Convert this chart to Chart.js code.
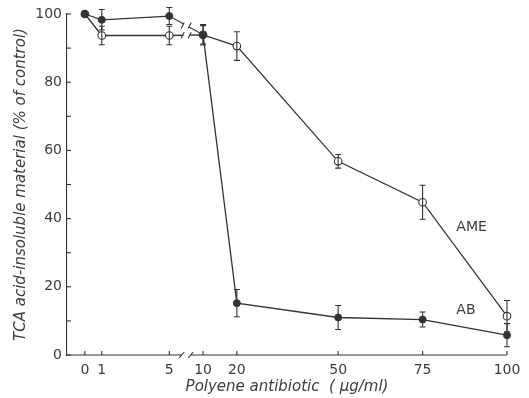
<!DOCTYPE html>
<html lang="en">
<head>
    <meta charset="UTF-8">
    <title>TCA acid-insoluble material vs polyene antibiotic</title>
    <script src="https://cdn.jsdelivr.net/npm/chart.js"></script>
    <style>
        html, body { margin: 0; padding: 0; background: #fff; overflow: hidden; }
    </style>
</head>
<body>
    <canvas id="chart" width="529" height="398"></canvas>

    <script>
        // Data
        const doses = [0, 1, 5, 10, 20, 50, 75, 100];
        const abValues = [100, 98.3, 99.4, 93.9, 15.2, 11.0, 10.4, 5.8];
        const abErrors = [0, 3, 2.5, 3, 4, 3.5, 2.2, 3.4];
        const ameValues = [100, 93.7, 93.7, 93.9, 90.6, 56.8, 44.8, 11.4];
        const ameErrors = [0, 2.7, 2.7, 2.7, 4.2, 2, 5, 4.6];
        const yTicks = [0, 20, 40, 60, 80, 100];

        const ink = '#333';
        const textInk = '#3c3c3c';

        // broken x axis: 0..5 stretched, then 10..100 linear
        function pos(d) {
            return d <= 5 ? d * 5 : 25 + d;
        }
        const tickPositions = doses.map(pos);

        function toPoints(vals) {
            return doses.map((d, i) => ({ x: pos(d), y: vals[i] }));
        }

        const figurePlugin = {
            id: 'figureDecor',
            afterDatasetsDraw(chart) {
                const ctx = chart.ctx;
                const xs = chart.scales.x, ys = chart.scales.y;
                const area = chart.chartArea;
                ctx.save();
                ctx.strokeStyle = ink;
                ctx.lineWidth = 1.1;

                // error bars
                [[abValues, abErrors], [ameValues, ameErrors]].forEach(([vals, errs]) => {
                    doses.forEach((d, i) => {
                        if (!errs[i]) return;
                        const px = xs.getPixelForValue(pos(d));
                        const top = ys.getPixelForValue(vals[i] + errs[i]);
                        const bot = ys.getPixelForValue(vals[i] - errs[i]);
                        ctx.beginPath();
                        ctx.moveTo(px, top); ctx.lineTo(px, bot);
                        ctx.moveTo(px - 3, top); ctx.lineTo(px + 3, top);
                        ctx.moveTo(px - 3, bot); ctx.lineTo(px + 3, bot);
                        ctx.stroke();
                    });
                });

                // breaks on the lines between 5 and 10
                [abValues, ameValues].forEach(vals => {
                    const x1 = xs.getPixelForValue(pos(5)), x2 = xs.getPixelForValue(pos(10));
                    const y1 = ys.getPixelForValue(vals[2]), y2 = ys.getPixelForValue(vals[3]);
                    const mx = (x1 + x2) / 2, my = (y1 + y2) / 2;
                    ctx.fillStyle = '#fff';
                    ctx.fillRect(mx - 3, my - 4, 6, 8);
                    ctx.beginPath();
                    ctx.moveTo(mx - 5, my + 3); ctx.lineTo(mx - 2, my - 3);
                    ctx.moveTo(mx + 2, my + 3); ctx.lineTo(mx + 5, my - 3);
                    ctx.stroke();
                });

                // x axis line with break
                const by = area.bottom;
                const bx = (xs.getPixelForValue(pos(5)) + xs.getPixelForValue(pos(10))) / 2;
                ctx.beginPath();
                ctx.moveTo(area.left, by); ctx.lineTo(bx - 4, by);
                ctx.moveTo(bx + 4, by); ctx.lineTo(area.right, by);
                ctx.moveTo(bx - 7, by + 3); ctx.lineTo(bx - 2, by - 3);
                ctx.moveTo(bx + 2, by + 3); ctx.lineTo(bx + 7, by - 3);
                ctx.stroke();

                // inward ticks
                tickPositions.forEach(p => {
                    const px = xs.getPixelForValue(p);
                    ctx.beginPath();
                    ctx.moveTo(px, by); ctx.lineTo(px, by - 4);
                    ctx.stroke();
                });
                for (let v = 0; v <= 100; v += 10) {
                    const py = ys.getPixelForValue(v);
                    ctx.beginPath();
                    ctx.moveTo(area.left, py); ctx.lineTo(area.left + 4, py);
                    ctx.stroke();
                }

                // series labels
                ctx.fillStyle = textInk;
                ctx.font = '14px "DejaVu Sans"';
                ctx.textBaseline = 'middle';
                ctx.textAlign = 'left';
                ctx.fillText('AME', xs.getPixelForValue(pos(85)), ys.getPixelForValue(37.5));
                ctx.fillText('AB', xs.getPixelForValue(pos(85)), ys.getPixelForValue(13));
                ctx.restore();
            }
        };

        const ctx = document.getElementById('chart').getContext('2d');
        new Chart(ctx, {
            type: 'line',
            data: {
                datasets: [
                    {
                        label: 'AB',
                        data: toPoints(abValues),
                        borderColor: ink,
                        borderWidth: 1.3,
                        pointRadius: 3.5,
                        pointBackgroundColor: ink,
                        pointBorderColor: ink,
                        pointBorderWidth: 1,
                        tension: 0
                    },
                    {
                        label: 'AME',
                        data: toPoints(ameValues),
                        borderColor: ink,
                        borderWidth: 1.3,
                        pointRadius: 3.8,
                        pointBackgroundColor: doses.map((d, i) => i === 0 ? ink : '#fff'),
                        pointBorderColor: ink,
                        pointBorderWidth: 1.1,
                        tension: 0
                    }
                ]
            },
            options: {
                responsive: false,
                animation: false,
                clip: false,
                layout: { padding: { top: 14, right: 22, left: 0, bottom: 0 } },
                plugins: {
                    legend: { display: false },
                    tooltip: { enabled: false }
                },
                scales: {
                    x: {
                        type: 'linear',
                        min: -5.3,
                        max: 125,
                        grid: { display: false, drawTicks: false },
                        border: { display: false },
                        afterBuildTicks: (scale) => {
                            scale.ticks = tickPositions.map(v => ({ value: v }));
                        },
                        afterFit: (scale) => { scale.height = 43; },
                        ticks: {
                            padding: 7,
                            color: textInk,
                            font: { family: 'DejaVu Sans', size: 14 },
                            maxRotation: 0,
                            autoSkip: false,
                            callback: (v) => {
                                const i = tickPositions.indexOf(v);
                                return i >= 0 ? String(doses[i]) : '';
                            }
                        },
                        title: {
                            display: true,
                            text: 'Polyene antibiotic  ( μg/ml)',
                            color: textInk,
                            font: { family: 'DejaVu Sans', size: 15, style: 'italic' },
                            padding: { top: 0, bottom: 2 }
                        }
                    },
                    y: {
                        min: 0,
                        max: 100,
                        grid: { display: false, drawTicks: false },
                        border: { display: true, color: ink, width: 1.1 },
                        afterBuildTicks: (scale) => {
                            scale.ticks = yTicks.map(v => ({ value: v }));
                        },
                        afterFit: (scale) => { scale.width = 67; },
                        ticks: {
                            padding: 5,
                            color: textInk,
                            font: { family: 'DejaVu Sans', size: 14 }
                        },
                        title: {
                            display: true,
                            text: 'TCA acid-insoluble material (% of control)',
                            color: textInk,
                            font: { family: 'DejaVu Sans', size: 15, style: 'italic' },
                            padding: { top: 12, bottom: 0 }
                        }
                    }
                }
            },
            plugins: [figurePlugin]
        });
    </script>
</body>
</html>
